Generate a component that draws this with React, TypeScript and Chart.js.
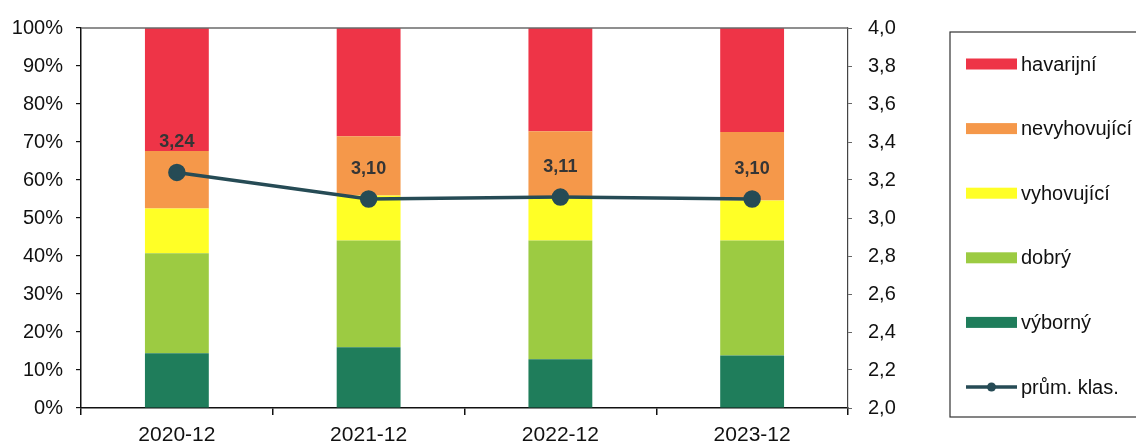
import React, { useEffect, useRef } from 'react';
import { Chart, registerables } from 'chart.js';

Chart.register(...registerables);

const categories = ['2020-12', '2021-12', '2022-12', '2023-12'];
const vyborny = [14.4, 16.0, 12.8, 13.8];
const dobry = [26.3, 28.1, 31.3, 30.3];
const vyhovujici = [11.8, 11.8, 11.5, 10.5];
const nevyhovujici = [15.1, 15.6, 17.2, 18.0];
const havarijni = [32.4, 28.5, 27.2, 27.4];
const prumKlas = [3.24, 3.10, 3.11, 3.10];

const FONT = '"Liberation Sans", Arial, sans-serif';
const COLORS = {
  vyborny: '#1f7d5b',
  dobry: '#9ccb42',
  vyhovujici: '#ffff26',
  nevyhovujici: '#f5984a',
  havarijni: '#ee3447',
  line: '#264b55',
};

const labelPlugin = {
  id: 'pointLabels',
  afterDatasetsDraw(chart: any) {
    const ctx = chart.ctx;
    chart.data.datasets.forEach((ds: any, i: number) => {
      if (ds.type !== 'line') return;
      const meta = chart.getDatasetMeta(i);
      ctx.save();
      ctx.font = `bold 18px ${FONT}`;
      ctx.fillStyle = '#353535';
      ctx.textAlign = 'center';
      ctx.textBaseline = 'middle';
      meta.data.forEach((pt: any, j: number) => {
        ctx.fillText(ds.data[j].toFixed(2).replace('.', ','), pt.x, pt.y - 30);
      });
      ctx.restore();
    });
  },
};

const framePlugin = {
  id: 'frame',
  afterDatasetsDraw(chart: any) {
    const { ctx, chartArea } = chart;
    ctx.save();
    ctx.strokeStyle = '#6a6a6a';
    ctx.lineWidth = 1.5;
    ctx.beginPath();
    ctx.moveTo(chartArea.left, chartArea.top);
    ctx.lineTo(chartArea.right, chartArea.top);
    ctx.stroke();
    ctx.restore();
  },
};

const legendPlugin = {
  id: 'customLegend',
  afterDraw(chart: any) {
    const ctx = chart.ctx;
    const boxLeft = 950;
    const boxTop = 32;
    const boxBottom = 417;
    ctx.save();
    ctx.strokeStyle = '#333';
    ctx.lineWidth = 1.2;
    ctx.strokeRect(boxLeft, boxTop, 1136 - boxLeft + 10, boxBottom - boxTop);
    const order = [4, 3, 2, 1, 0, 5];
    const startY = 64;
    const step = 64.6;
    ctx.font = `20px ${FONT}`;
    ctx.textBaseline = 'middle';
    ctx.textAlign = 'left';
    order.forEach((di, k) => {
      const ds = chart.data.datasets[di];
      const cy = startY + k * step;
      if (ds.type === 'line') {
        ctx.strokeStyle = ds.borderColor;
        ctx.lineWidth = 3.5;
        ctx.beginPath();
        ctx.moveTo(966, cy);
        ctx.lineTo(1017, cy);
        ctx.stroke();
        ctx.fillStyle = ds.borderColor;
        ctx.beginPath();
        ctx.arc(991.5, cy, 4.5, 0, Math.PI * 2);
        ctx.fill();
      } else {
        ctx.fillStyle = ds.backgroundColor;
        ctx.fillRect(966, cy - 5.5, 51, 11);
      }
      ctx.fillStyle = '#111';
      ctx.fillText(ds.label, 1021, cy + 1);
    });
    ctx.restore();
  },
};

export default function App() {
  const canvasRef = useRef<HTMLCanvasElement | null>(null);

  useEffect(() => {
    if (!canvasRef.current) return;
    Chart.defaults.font.family = FONT;
    const barCommon = { type: 'bar' as const, yAxisID: 'y', stack: 's', order: 1, categoryPercentage: 1, barPercentage: 0.333 };
    const chart = new Chart(canvasRef.current, {
      type: 'bar',
      data: {
        labels: categories,
        datasets: [
          { ...barCommon, label: 'výborný', data: vyborny, backgroundColor: COLORS.vyborny },
          { ...barCommon, label: 'dobrý', data: dobry, backgroundColor: COLORS.dobry },
          { ...barCommon, label: 'vyhovující', data: vyhovujici, backgroundColor: COLORS.vyhovujici },
          { ...barCommon, label: 'nevyhovující', data: nevyhovujici, backgroundColor: COLORS.nevyhovujici },
          { ...barCommon, label: 'havarijní', data: havarijni, backgroundColor: COLORS.havarijni },
          {
            type: 'line' as const,
            label: 'prům. klas.',
            data: prumKlas,
            yAxisID: 'y2',
            order: 0,
            borderColor: COLORS.line,
            backgroundColor: COLORS.line,
            borderWidth: 3.5,
            pointRadius: 7,
            pointBackgroundColor: COLORS.line,
            pointBorderColor: COLORS.line,
            tension: 0,
          } as any,
        ],
      },
      options: {
        animation: false,
        responsive: true,
        maintainAspectRatio: false,
        layout: { padding: { left: 0, right: 206, top: 23, bottom: 0 } },
        plugins: {
          legend: { display: false },
          tooltip: { enabled: false },
        },
        scales: {
          x: {
            stacked: true,
            offset: true,
            grid: { display: true, drawOnChartArea: false, offset: true, color: '#111', tickLength: 7, lineWidth: 1.5 },
            border: { display: true, color: '#111', width: 1.5 },
            ticks: { color: '#111', font: { size: 21, family: FONT }, padding: 8, maxRotation: 0 },
            afterFit: (s: any) => { s.height = 39; },
          },
          y: {
            position: 'left',
            stacked: true,
            min: 0,
            max: 100,
            grid: { display: true, drawOnChartArea: false, color: '#111', tickLength: 5, lineWidth: 1.2 },
            border: { display: true, color: '#111', width: 1.5 },
            ticks: { stepSize: 10, color: '#111', font: { size: 20, family: FONT }, padding: 13, callback: (v: any) => `${v}%` },
            afterFit: (s: any) => { s.width = 81; },
          },
          y2: {
            position: 'right',
            min: 2,
            max: 4,
            grid: { display: true, drawOnChartArea: false, color: '#666', tickLength: 4, lineWidth: 1 },
            border: { display: true, color: '#444', width: 1.2 },
            ticks: { stepSize: 0.2, color: '#111', font: { size: 20, family: FONT }, padding: 16, callback: (v: any) => Number(v).toFixed(1).replace('.', ',') },
            afterFit: (s: any) => { s.width = 82; },
          },
        },
      },
      plugins: [framePlugin, labelPlugin, legendPlugin],
    } as any);
    return () => chart.destroy();
  }, []);

  return (
    <div style={{ position: 'absolute', left: 0, top: 0, width: 1136, height: 447, background: '#fff' }}>
      <canvas ref={canvasRef} />
    </div>
  );
}
